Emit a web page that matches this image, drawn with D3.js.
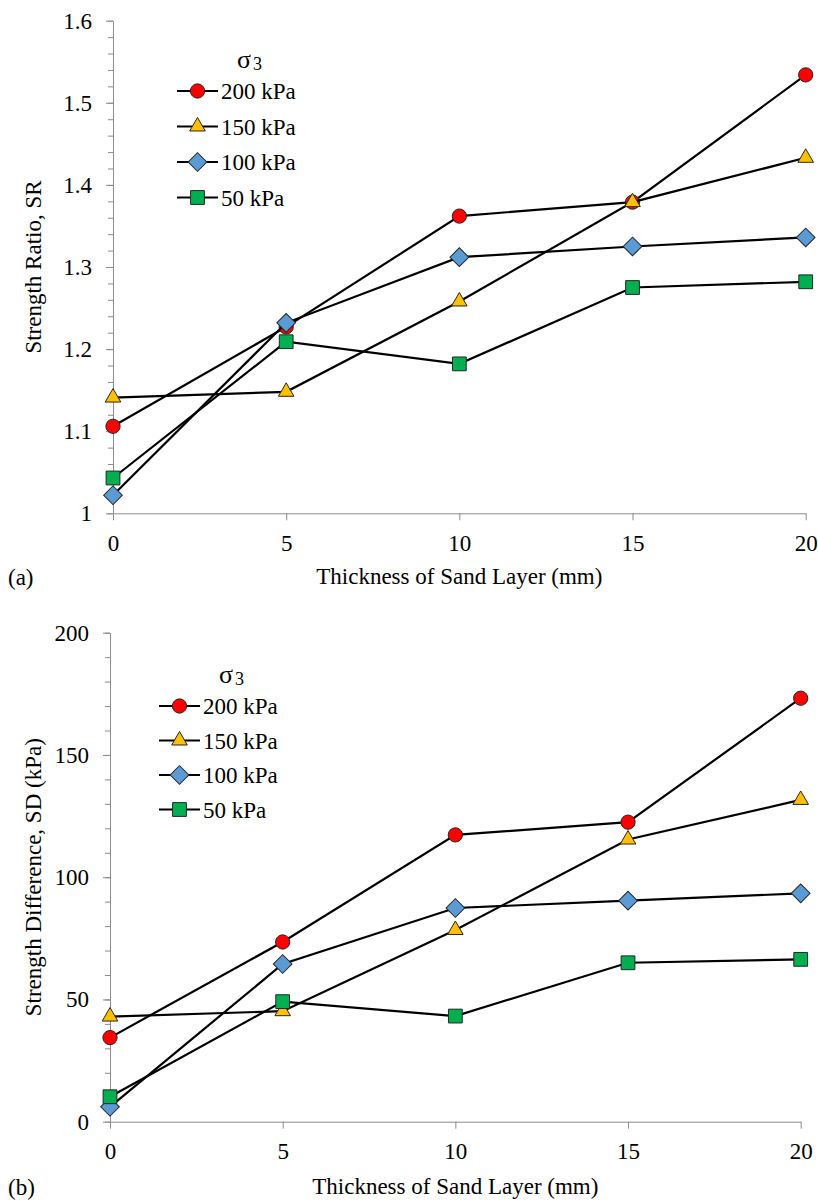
<!DOCTYPE html>
<html lang="en">
<head>
<meta charset="UTF-8">
<title>Strength ratio and strength difference</title>
<script src="https://cdn.jsdelivr.net/npm/d3@7"></script>
<style>
  body { margin: 0; background: #fff; }
  svg text { font-family: "Times New Roman", Times, "Liberation Serif", "DejaVu Serif", serif !important; fill: #000; }
</style>
</head>
<body>
<svg id="chart" width="818" height="1201"></svg>
<script>
// data
const thickness = [0, 5, 10, 15, 20];
const pressures = ["200 kPa", "150 kPa", "100 kPa", "50 kPa"];

const sr200 = [1.106, 1.227, 1.362, 1.379, 1.534];
const sr150 = [1.141, 1.148, 1.258, 1.379, 1.433];
const sr100 = [1.022, 1.232, 1.312, 1.325, 1.336];
const sr50  = [1.043, 1.209, 1.182, 1.275, 1.282];

const sd200 = [34.4, 73.5, 117.3, 122.5, 173.2];
const sd150 = [43.0, 45.2, 78.4, 115.4, 131.6];
const sd100 = [6.1, 64.5, 87.4, 90.4, 93.4];
const sd50  = [10.2, 49.1, 43.2, 65.0, 66.4];

const xTicks = [0, 5, 10, 15, 20];
const srTicks = [1, 1.1, 1.2, 1.3, 1.4, 1.5, 1.6];
const sdTicks = [0, 50, 100, 150, 200];

// marker styles per series
const fills = ["#ff0000", "#ffc000", "#5b9bd5", "#00b050"];
const shapes = ["circle", "triangle", "diamond", "square"];

const svg = d3.select("#chart");
const axisGrey = "#8c8c8c";
const serif = "'Times New Roman', Times, 'Liberation Serif', 'DejaVu Serif', serif";

function marker(sel, shape, fill) {
    var sym;
    if (shape === "circle") sym = d3.symbol(d3.symbolCircle, 160);
    else if (shape === "triangle") sym = d3.symbol(d3.symbolTriangle, 105);
    else sym = d3.symbol(d3.symbolSquare, shape === "diamond" ? 175 : 190);
    sel.attr("d", sym)
        .attr("fill", fill)
        .attr("stroke", "#262626")
        .attr("stroke-width", 1);
}

function drawPanel(opt) {
    var x = d3.scaleLinear().domain([0, 20]).range([opt.left, opt.right]);
    var y = d3.scaleLinear().domain(opt.yDomain).range([opt.bottom, opt.top]);
    var g = svg.append("g").attr("font-family", serif);

    // minor y ticks
    g.append("g")
        .attr("transform", "translate(" + opt.left + ",0)")
        .call(d3.axisLeft(y).tickValues(opt.minor).tickSize(5).tickFormat(""))
        .call(a => a.select(".domain").remove())
        .call(a => a.selectAll("line").attr("stroke", axisGrey));

    // y axis
    var ya = g.append("g")
        .attr("transform", "translate(" + opt.left + ",0)")
        .call(d3.axisLeft(y).tickValues(opt.yTicks).tickSize(7).tickSizeOuter(0)
            .tickPadding(opt.yPad).tickFormat(opt.yFormat))
        .attr("font-family", serif);
    ya.select(".domain").attr("stroke", axisGrey);
    ya.selectAll("line").attr("stroke", axisGrey);
    ya.selectAll("text").attr("font-size", 23);

    // x axis
    var xa = g.append("g")
        .attr("transform", "translate(0," + opt.bottom + ")")
        .call(d3.axisBottom(x).tickValues(xTicks).tickSize(7).tickSizeOuter(0).tickPadding(14))
        .attr("font-family", serif);
    xa.select(".domain").attr("stroke", axisGrey);
    xa.selectAll("line").attr("stroke", axisGrey);
    xa.selectAll("text").attr("font-size", 23);

    // series
    var line = d3.line().x((d, i) => x(thickness[i])).y(d => y(d));
    opt.series.forEach(function (vals, s) {
        g.append("path")
            .datum(vals)
            .attr("d", line)
            .attr("fill", "none")
            .attr("stroke", "#000")
            .attr("stroke-width", 2.2);
        g.selectAll(".m" + s)
            .data(vals)
            .enter()
            .append("path")
            .attr("class", "m" + s)
            .attr("transform", (d, i) => "translate(" + x(thickness[i]) + "," + y(d) + ")" +
                (shapes[s] === "diamond" ? " rotate(45)" : ""))
            .call(marker, shapes[s], fills[s]);
    });

    // axis titles
    g.append("text")
        .attr("x", (opt.left + opt.right) / 2)
        .attr("y", opt.xTitleY)
        .attr("text-anchor", "middle")
        .attr("font-size", 23)
        .text("Thickness of Sand Layer (mm)");
    g.append("text")
        .attr("transform", "translate(" + opt.yTitleX + "," + (opt.top + opt.bottom) / 2 + ") rotate(-90)")
        .attr("text-anchor", "middle")
        .attr("font-size", 23)
        .text(opt.yTitle);
    g.append("text")
        .attr("x", 8)
        .attr("y", opt.xTitleY + 1)
        .attr("font-size", 23)
        .text(opt.panel);

    // legend
    var lg = g.append("g").attr("transform", "translate(" + opt.legX + "," + opt.legY + ")");
    var sig = lg.append("text").attr("x", 60).attr("y", -23).attr("font-size", 26);
    sig.append("tspan").text("σ");
    sig.append("tspan").attr("font-size", 18).attr("dy", 2).attr("dx", 2).text("3");
    pressures.forEach(function (p, s) {
        var row = lg.append("g").attr("transform", "translate(0," + s * opt.legStep + ")");
        row.append("line").attr("x1", 0).attr("x2", 41).attr("y1", 0).attr("y2", 0)
            .attr("stroke", "#000").attr("stroke-width", 2.2);
        row.append("path")
            .attr("transform", "translate(20.5,0)" + (shapes[s] === "diamond" ? " rotate(45)" : ""))
            .call(marker, shapes[s], fills[s]);
        row.append("text").attr("x", 44).attr("y", 8).attr("font-size", 23).text(p);
    });
}

drawPanel({
    left: 113, right: 805.7, top: 20.7, bottom: 513.3,
    yDomain: [1, 1.6], yTicks: srTicks, minor: d3.range(1, 1.6001, 0.02),
    yFormat: d => d3.format("")(+d.toFixed(1)), yPad: 14,
    series: [sr200, sr150, sr100, sr50],
    xTitleY: 583.5, yTitleX: 41, yTitle: "Strength Ratio, SR", panel: "(a)",
    legX: 177, legY: 91, legStep: 35.5
});

drawPanel({
    left: 110, right: 800.7, top: 632.7, bottom: 1121.7,
    yDomain: [0, 200], yTicks: sdTicks, minor: d3.range(0, 201, 10),
    yFormat: d3.format("d"), yPad: 14,
    series: [sd200, sd150, sd100, sd50],
    xTitleY: 1193.5, yTitleX: 41, yTitle: "Strength Difference, SD (kPa)", panel: "(b)",
    legX: 159, legY: 706, legStep: 34.5
});
</script>
</body>
</html>
